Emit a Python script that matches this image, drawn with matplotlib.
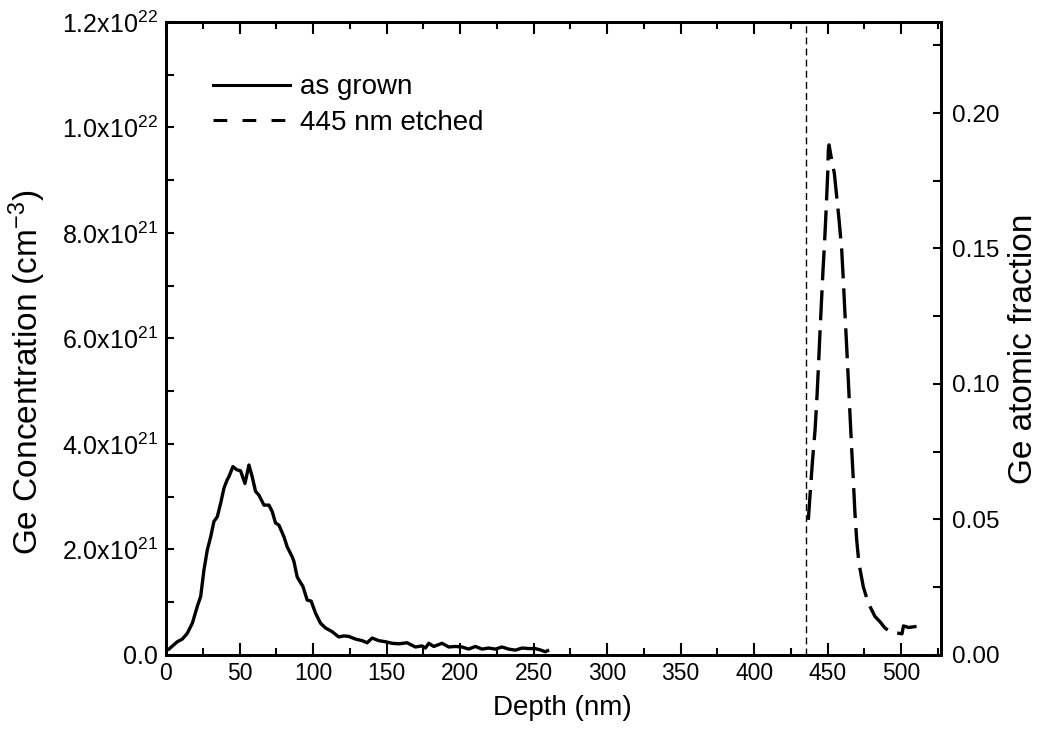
import matplotlib
matplotlib.use("Agg")
import matplotlib.pyplot as plt
from matplotlib.ticker import MultipleLocator, FuncFormatter, FixedLocator
from matplotlib.lines import Line2D

plt.rcParams['font.family'] = ['Liberation Sans', 'DejaVu Sans']
plt.rcParams['mathtext.default'] = 'regular'

# ---- data (depth in nm, concentration in cm^-3) ----
grown_depth = [2.0, 7.7, 11.1, 14.5, 17.9, 21.3, 23.6, 25.8, 28.1, 30.4, 32.6, 34.9,
               37.2, 39.4, 41.6, 42.8, 45.5, 48.2, 50.7, 53.7, 56.4, 58.6, 60.9, 63.2,
               66.6, 70.0, 72.2, 74.5, 76.8, 80.2, 82.4, 85.8, 87.0, 89.2, 90.4, 93.1,
               96.0, 98.7, 101.7, 105.1, 108.5, 113.0, 117.5, 120.9, 124.3, 128.9, 133.4,
               136.8, 140.2, 144.7, 149.2, 153.8, 158.3, 163.9, 169.6, 174.1, 176.4, 178.7,
               182.1, 187.7, 192.3, 196.8, 201.3, 205.8, 210.4, 214.9, 219.4, 224.0, 228.5,
               233.0, 237.6, 242.1, 246.6, 251.1, 255.0, 258.0, 259.5]
grown_conc = [0.11e21, 0.25e21, 0.30e21, 0.41e21, 0.60e21, 0.92e21, 1.11e21, 1.61e21,
              1.99e21, 2.24e21, 2.53e21, 2.62e21, 2.88e21, 3.16e21, 3.32e21, 3.38e21,
              3.57e21, 3.51e21, 3.49e21, 3.25e21, 3.60e21, 3.38e21, 3.10e21, 3.03e21,
              2.84e21, 2.84e21, 2.72e21, 2.50e21, 2.46e21, 2.24e21, 2.05e21, 1.86e21,
              1.77e21, 1.48e21, 1.42e21, 1.30e21, 1.04e21, 1.02e21, 0.79e21, 0.60e21,
              0.51e21, 0.44e21, 0.34e21, 0.36e21, 0.35e21, 0.30e21, 0.27e21, 0.23e21,
              0.32e21, 0.27e21, 0.25e21, 0.22e21, 0.21e21, 0.23e21, 0.15e21, 0.17e21,
              0.13e21, 0.22e21, 0.16e21, 0.22e21, 0.15e21, 0.16e21, 0.15e21, 0.11e21,
              0.16e21, 0.11e21, 0.13e21, 0.11e21, 0.15e21, 0.11e21, 0.09e21, 0.13e21,
              0.12e21, 0.12e21, 0.09e21, 0.06e21, 0.08e21]

etched_depth = [436.8, 437.9, 439.5, 441.4, 442.7, 443.8, 444.8, 445.9, 446.8, 447.7,
                448.6, 449.3, 450.0, 450.4, 450.9, 452.7, 454.5, 456.1, 457.7, 459.5,
                460.6, 461.7, 462.9, 464.0, 465.1, 466.2, 467.4, 468.5, 469.7, 471.2,
                474.2, 477.6, 482.1, 485.5, 488.9, 492.0, 496.0, 500.5, 501.5, 505.0, 510.4]
etched_conc = [2.56e21, 3.00e21, 3.63e21, 4.27e21, 4.90e21, 5.53e21, 6.16e21, 6.79e21,
               7.30e21, 7.74e21, 8.25e21, 8.69e21, 9.13e21, 9.57e21, 9.67e21, 9.38e21,
               9.13e21, 8.69e21, 8.25e21, 7.68e21, 7.11e21, 6.48e21, 5.84e21, 5.21e21,
               4.58e21, 3.95e21, 3.32e21, 2.69e21, 2.18e21, 1.74e21, 1.29e21, 0.98e21,
               0.73e21, 0.63e21, 0.51e21, 0.45e21, 0.42e21, 0.40e21, 0.55e21, 0.52e21, 0.54e21]

etch_depth = 435

x_ticks = [0, 50, 100, 150, 200, 250, 300, 350, 400, 450, 500]
left_ticks = [0, 2e21, 4e21, 6e21, 8e21, 1.0e22, 1.2e22]
left_labels = ['0.0', '2.0x10$^{21}$', '4.0x10$^{21}$', '6.0x10$^{21}$',
               '8.0x10$^{21}$', '1.0x10$^{22}$', '1.2x10$^{22}$']
right_ticks = [0.00, 0.05, 0.10, 0.15, 0.20]

fig = plt.figure(figsize=(10.44, 7.40), dpi=100)
ax = fig.add_axes([0.159, 0.115, 0.7423, 0.8553])
ax2 = ax.twinx()

ax.plot(grown_depth, grown_conc, color='black', lw=2.4, solid_joinstyle='round')
ax.plot(etched_depth, etched_conc, color='black', lw=2.4, dashes=(9, 3))
ax.axvline(etch_depth, color='black', lw=1.0, dashes=(5, 3))

ax.set_xlim(0, 527)
ax.set_ylim(0, 1.2e22)
ax2.set_ylim(0, 0.2336)

ax.xaxis.set_major_locator(FixedLocator(x_ticks))
ax.xaxis.set_minor_locator(MultipleLocator(25))
ax.yaxis.set_major_locator(FixedLocator(left_ticks))
ax.set_yticklabels(left_labels)
ax.yaxis.set_minor_locator(MultipleLocator(1e21))
ax2.yaxis.set_major_locator(FixedLocator(right_ticks))
ax2.yaxis.set_minor_locator(MultipleLocator(0.025))
ax2.yaxis.set_major_formatter(FuncFormatter(lambda v, p: f'{v:.2f}'))

for a in (ax, ax2):
    for s in a.spines.values():
        s.set_linewidth(2.0)

ax.tick_params(axis='x', which='both', direction='in', top=True, width=1.5, labelsize=16.5, pad=5)
ax.tick_params(axis='x', which='major', length=8.5)
ax.tick_params(axis='x', which='minor', length=5)
ax.tick_params(axis='y', which='both', direction='in', left=True, right=False,
               length=5.5, width=1.5, labelsize=18, pad=6)
ax2.tick_params(axis='y', which='both', direction='in', length=5.5, width=1.5,
                labelsize=17.5, pad=8)

ax.set_xlabel('Depth (nm)', fontsize=20)
ax.xaxis.set_label_coords(0.511, -0.063)
ax.set_ylabel('Ge Concentration (cm$^{-3}$)', fontsize=24)
ax.yaxis.set_label_coords(-0.152, 0.447)
ax2.set_ylabel('Ge atomic fraction', fontsize=24)
ax2.yaxis.set_label_coords(1.086, 0.483)

handles = [Line2D([], [], color='black', lw=2.2),
           Line2D([], [], color='black', lw=2.2, dashes=(4.5, 5))]
ax.legend(handles, ['as grown', '445 nm etched'], loc='upper left',
          bbox_to_anchor=(0.0465, 0.935), frameon=False, fontsize=20,
          handlelength=2.77, handletextpad=0.36, labelspacing=0.35,
          borderaxespad=0)

fig.savefig('out.png', dpi=100)
